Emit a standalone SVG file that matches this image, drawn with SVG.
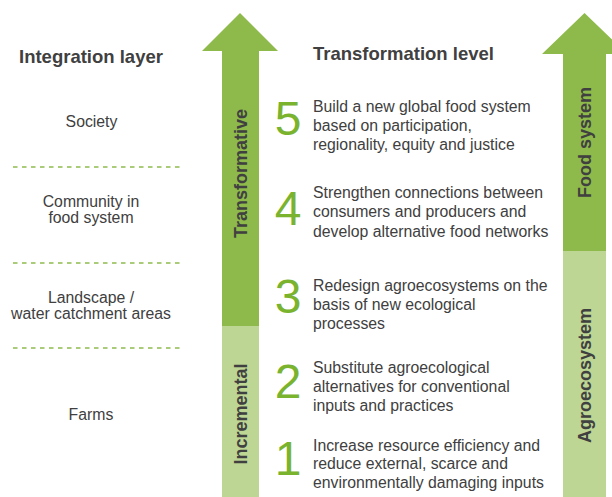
<svg xmlns="http://www.w3.org/2000/svg" width="612" height="497" viewBox="0 0 612 497">
<style>
.t{font-family:"Liberation Sans",Arial,sans-serif;fill:#404040}
.h{font-size:18.5px;font-weight:bold}
.v{font-size:18px;font-weight:bold}
.b{font-size:15.8px}
.n{font-family:"Liberation Sans",Arial,sans-serif;font-size:48px;fill:#7AB32E;text-anchor:middle}
.dk{fill:#8EBA4B}
.lt{fill:#BDD693}
.dash{stroke:#8EBA4B;stroke-width:1.3;stroke-dasharray:4.5,4.5;fill:none}
</style>
<rect width="612" height="497" fill="#fff"/>
<g id="left-arrow">
<polygon class="dk" points="240,13 278,51 259,51 259,327 222,327 222,51 202,51"/>
<rect class="lt" x="222" y="326" width="37" height="171"/>
<text class="t v" text-anchor="middle" transform="translate(247,173.5) rotate(-90)">Transformative</text>
<text class="t v" text-anchor="middle" transform="translate(247,414) rotate(-90)">Incremental</text>
</g>
<g id="right-arrow">
<polygon class="dk" points="584.5,13 627,54 606,54 606,252 563,252 563,54 542,54"/>
<rect class="lt" x="563" y="251" width="43" height="246"/>
<text class="t v" text-anchor="middle" transform="translate(591,142.5) rotate(-90)">Food system</text>
<text class="t v" text-anchor="middle" transform="translate(591,375.5) rotate(-90)">Agroecosystem</text>
</g>
<g id="connectors">
<line class="dash" x1="13" y1="167" x2="183" y2="167"/>
<line class="dash" x1="13" y1="263" x2="183" y2="263"/>
<line class="dash" x1="13" y1="348" x2="183" y2="348"/>
</g>
<g id="left-labels">
<text class="t h" x="19" y="63">Integration layer</text>
<text class="t b" x="91.5" y="127" text-anchor="middle">Society</text>
<text class="t b" x="91" y="207" text-anchor="middle">Community in</text>
<text class="t b" x="91" y="223" text-anchor="middle">food system</text>
<text class="t b" x="91" y="303" text-anchor="middle">Landscape /</text>
<text class="t b" x="91" y="319" text-anchor="middle">water catchment areas</text>
<text class="t b" x="91" y="420" text-anchor="middle">Farms</text>
</g>
<g id="title">
<text class="t h" x="313" y="60">Transformation level</text>
</g>
<g id="level5">
<text class="n" x="288" y="135">5</text>
<text class="t b" x="313" y="112">Build a new global food system</text>
<text class="t b" x="313" y="131">based on participation,</text>
<text class="t b" x="313" y="150">regionality, equity and justice</text>
</g>
<g id="level4">
<text class="n" x="288" y="225">4</text>
<text class="t b" x="313" y="198">Strengthen connections between</text>
<text class="t b" x="313" y="217">consumers and producers and</text>
<text class="t b" x="313" y="237">develop alternative food networks</text>
</g>
<g id="level3">
<text class="n" x="288" y="313">3</text>
<text class="t b" x="313" y="291">Redesign agroecosystems on the</text>
<text class="t b" x="313" y="310">basis of new ecological</text>
<text class="t b" x="313" y="329">processes</text>
</g>
<g id="level2">
<text class="n" x="288" y="398">2</text>
<text class="t b" x="313" y="373">Substitute agroecological</text>
<text class="t b" x="313" y="392">alternatives for conventional</text>
<text class="t b" x="313" y="411">inputs and practices</text>
</g>
<g id="level1">
<text class="n" x="288" y="475">1</text>
<text class="t b" x="313" y="451">Increase resource efficiency and</text>
<text class="t b" x="313" y="469">reduce external, scarce and</text>
<text class="t b" x="313" y="488">environmentally damaging inputs</text>
</g>
</svg>
